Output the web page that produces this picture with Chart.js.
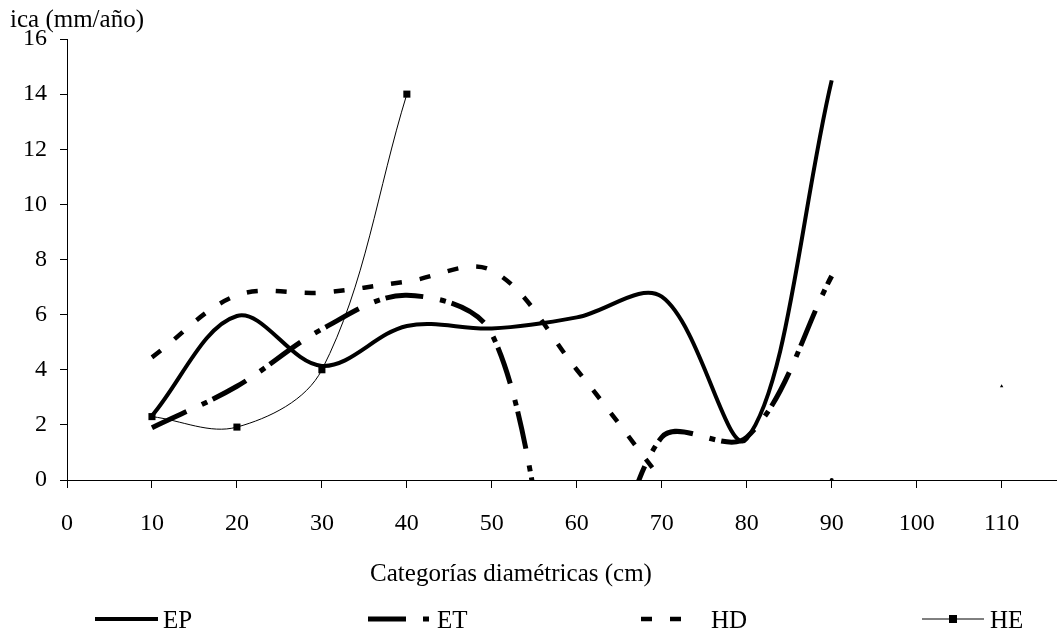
<!DOCTYPE html>
<html lang="es">
<head>
<meta charset="UTF-8">
<title>ica por categoría diamétrica</title>
<script src="https://cdn.jsdelivr.net/npm/chart.js"></script>
<style>
    html, body { margin: 0; padding: 0; background: #ffffff; }
    .grafico-box { width: 1061px; height: 634px; position: relative; }
</style>
</head>
<body>
<div class="grafico-box"><canvas id="grafico"></canvas></div>
<script>
// Categorías diamétricas (cm)
const categorias = [10, 20, 30, 40, 50, 60, 70, 80, 90, 100, 110];

// ica (mm/año) por especie
const valoresEP = [2.33, 5.95, 4.14, 5.59, 5.5, 5.9, 6.65, 1.5, 14.5, null, null];
const valoresET = [1.9, 3.4, 5.47, 6.7, 5.3, -6, 1.55, 1.55, 7.4, null, null];
const valoresHD = [4.45, 6.7, 6.8, 7.2, 7.6, 4.0, 0, null, 0, null, 3.4];
const valoresHE = [2.3, 1.92, 4.0, 14.0, null, null, null, null, null, null, null];

const ticksX = [0, 10, 20, 30, 40, 50, 60, 70, 80, 90, 100, 110];
const ticksY = [0, 2, 4, 6, 8, 10, 12, 14, 16];

const fuente = "'Liberation Serif', 'Times New Roman', serif";

function puntos(valores) {
    return categorias.map((x, i) => ({ x: x, y: valores[i] }));
}

// puntos sueltos de HD (sin vecinos) se ven como marcas pequeñas
const radioHD = valoresHD.map((v, i) => {
    const ant = i > 0 ? valoresHD[i - 1] : null;
    const sig = i < valoresHD.length - 1 ? valoresHD[i + 1] : null;
    return (v !== null && ant === null && sig === null) ? 2 : 0;
});
const estiloHD = valoresHD.map((v, i) => i === valoresHD.length - 1 ? 'triangle' : 'circle');

// titulos y leyenda dibujados a mano (posiciones como en el original)
const extras = {
    id: 'extras',
    afterDraw(chart) {
        const ctx = chart.ctx;
        ctx.save();
        ctx.fillStyle = '#000';
        ctx.font = '25px ' + fuente;
        ctx.textBaseline = 'alphabetic';
        ctx.textAlign = 'left';
        ctx.fillText('ica (mm/año)', 10, 27);
        ctx.textAlign = 'center';
        ctx.fillText('Categorías diamétricas (cm)', 511, 581);

        const yLey = 619;
        const items = [
            { ds: 0, x1: 95,  x2: 158, xt: 163 },
            { ds: 1, x1: 368, x2: 431, xt: 437 },
            { ds: 2, x1: 641, x2: 684, xt: 711 },
            { ds: 3, x1: 922, x2: 984, xt: 990 }
        ];
        items.forEach(it => {
            const d = chart.data.datasets[it.ds];
            ctx.beginPath();
            ctx.setLineDash(d.borderDash || []);
            ctx.lineWidth = d.borderWidth;
            ctx.lineCap = 'butt';
            ctx.strokeStyle = '#000';
            ctx.moveTo(it.x1, yLey);
            ctx.lineTo(it.x2, yLey);
            ctx.stroke();
            ctx.setLineDash([]);
            if (d.pointStyle === 'rect') {
                const m = (it.x1 + it.x2) / 2;
                ctx.fillRect(m - 4, yLey - 4, 8, 8);
            }
            ctx.textAlign = 'left';
            ctx.fillText(d.label, it.xt, yLey + 9);
        });
        ctx.restore();
    }
};

new Chart(document.getElementById('grafico'), {
    type: 'line',
    data: {
        datasets: [
            { label: 'EP', data: puntos(valoresEP), borderColor: '#000', borderWidth: 4,
              pointRadius: 0, tension: 0.35 },
            { label: 'ET', data: puntos(valoresET), borderColor: '#000', borderWidth: 5,
              borderDash: [38, 17, 6, 6], pointRadius: 0, tension: 0.35 },
            { label: 'HD', data: puntos(valoresHD), borderColor: '#000', borderWidth: 4.5,
              borderDash: [11, 18], pointRadius: radioHD, pointStyle: estiloHD,
              pointBackgroundColor: '#000', pointBorderWidth: 0, tension: 0.35 },
            { label: 'HE', data: puntos(valoresHE), borderColor: '#000', borderWidth: 1,
              pointStyle: 'rect', pointRadius: 5, pointBackgroundColor: '#000',
              pointBorderWidth: 0, tension: 0.35 }
        ]
    },
    options: {
        responsive: true,
        maintainAspectRatio: false,
        animation: false,
        spanGaps: false,
        elements: { line: { capBezierPoints: false, fill: false } },
        layout: { padding: { top: 39, right: 0, left: 0, bottom: 0 } },
        plugins: {
            legend: { display: false },
            tooltip: { enabled: false }
        },
        scales: {
            x: {
                type: 'linear',
                min: 0,
                max: 116.4,
                afterBuildTicks: s => { s.ticks = ticksX.map(v => ({ value: v })); },
                afterFit: s => { s.height = 154; },
                grid: { display: true, drawOnChartArea: false, drawTicks: true, tickLength: 8, color: '#000' },
                border: { display: true, color: '#000', width: 1 },
                ticks: { color: '#000', padding: 21, maxRotation: 0, font: { family: fuente, size: 24 } }
            },
            y: {
                min: 0,
                max: 16,
                afterBuildTicks: s => { s.ticks = ticksY.map(v => ({ value: v })); },
                afterFit: s => { s.width = 67; },
                grid: { display: true, drawOnChartArea: false, drawTicks: true, tickLength: 7, color: '#000' },
                border: { display: true, color: '#000', width: 1 },
                ticks: { color: '#000', padding: 13, font: { family: fuente, size: 24 } }
            }
        }
    },
    plugins: [extras]
});
</script>
</body>
</html>
